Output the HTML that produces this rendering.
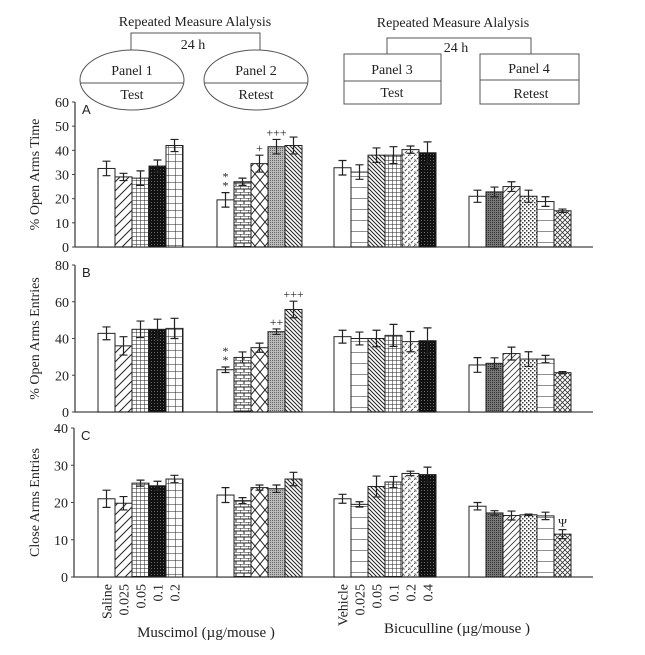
<!DOCTYPE html>
<html><head><meta charset="utf-8"><style>
body{margin:0;background:#fff}
svg text{font-family:"Liberation Serif",serif;fill:#222}
</style></head><body>
<svg id="chart" width="645" height="650" viewBox="0 0 645 650" xmlns="http://www.w3.org/2000/svg">
<defs>
<pattern id="p-diagR" patternUnits="userSpaceOnUse" width="9" height="9"><path d="M0 9L9 0M-2 2L2 -2M7 11L11 7" stroke="#222" stroke-width="1"/></pattern>
<pattern id="p-diagL" patternUnits="userSpaceOnUse" width="4" height="4"><path d="M0 0L4 4M-1 3L1 5M3 -1L5 1" stroke="#222" stroke-width="1"/></pattern>
<pattern id="p-fgrid" patternUnits="userSpaceOnUse" width="4" height="4"><rect width="4" height="4" fill="#fff"/><path d="M0 0H4M0 0V4" stroke="#222" stroke-width="1"/></pattern>
<pattern id="p-black" patternUnits="userSpaceOnUse" width="3" height="3"><rect width="3" height="3" fill="#111"/><rect x="1" y="1" width="1" height="1" fill="#666"/></pattern>
<pattern id="p-lgrid" patternUnits="userSpaceOnUse" width="7" height="7"><rect width="7" height="7" fill="#fff"/><path d="M0 0H7M0 0V7" stroke="#222" stroke-width="1"/></pattern>
<pattern id="p-brick" patternUnits="userSpaceOnUse" width="8" height="6"><rect width="8" height="6" fill="#fff"/><path d="M0 0H8M0 3H8M0 0V3M4 3V6" stroke="#222" stroke-width="1"/></pattern>
<pattern id="p-diamond" patternUnits="userSpaceOnUse" width="10" height="12"><path d="M0 0L10 12M10 0L0 12" stroke="#222" stroke-width="1"/></pattern>
<pattern id="p-gray" patternUnits="userSpaceOnUse" width="2" height="2"><rect width="2" height="2" fill="#bbb"/><rect width="1" height="1" fill="#666"/></pattern>
<pattern id="p-hlines" patternUnits="userSpaceOnUse" width="17" height="11"><path d="M0 0H17" stroke="#222" stroke-width="1"/></pattern>
<pattern id="p-wave" patternUnits="userSpaceOnUse" width="6" height="6"><path d="M0 6L6 0" stroke="#444" stroke-width="1" stroke-dasharray="3 1"/><path d="M0 3L3 6" stroke="#888" stroke-width="0.6"/></pattern>
<pattern id="p-dgrid" patternUnits="userSpaceOnUse" width="2" height="2"><rect width="2" height="2" fill="#777"/><rect width="1" height="1" fill="#333"/></pattern>
<pattern id="p-ldiag" patternUnits="userSpaceOnUse" width="6" height="6"><path d="M0 6L6 0M-1 1L1 -1M5 7L7 5" stroke="#333" stroke-width="0.8"/></pattern>
<pattern id="p-dots" patternUnits="userSpaceOnUse" width="4" height="4"><rect x="0" y="0" width="1.5" height="1.5" fill="#222"/><rect x="2" y="2" width="1.5" height="1.5" fill="#444"/></pattern>
<pattern id="p-sdiamond" patternUnits="userSpaceOnUse" width="5" height="5"><path d="M0 0L5 5M5 0L0 5" stroke="#333" stroke-width="0.8"/></pattern>
</defs>

<g fill="none" stroke="#555" stroke-width="1">
<text x="195" y="26" font-size="14" text-anchor="middle" stroke="none">Repeated Measure Alalysis</text>
<path d="M131 50V33H260V50"/>
<text x="193" y="49" font-size="14" text-anchor="middle" stroke="none">24 h</text>
<ellipse cx="132" cy="80" rx="52" ry="30"/>
<line x1="80" y1="83" x2="184" y2="83"/>
<text x="132" y="75" font-size="14" text-anchor="middle" stroke="none">Panel 1</text>
<text x="132" y="99" font-size="14" text-anchor="middle" stroke="none">Test</text>
<ellipse cx="256" cy="80" rx="52" ry="30"/>
<line x1="204" y1="83" x2="308" y2="83"/>
<text x="256" y="75" font-size="14" text-anchor="middle" stroke="none">Panel 2</text>
<text x="256" y="99" font-size="14" text-anchor="middle" stroke="none">Retest</text>
<text x="453" y="27" font-size="14" text-anchor="middle" stroke="none">Repeated Measure Alalysis</text>
<path d="M387 54V38H531V54"/>
<text x="456" y="52" font-size="14" text-anchor="middle" stroke="none">24 h</text>
<rect x="344" y="54" width="97" height="50"/>
<line x1="344" y1="81" x2="441" y2="81"/>
<text x="392" y="74" font-size="14" text-anchor="middle" stroke="none">Panel 3</text>
<text x="392" y="97" font-size="14" text-anchor="middle" stroke="none">Test</text>
<rect x="480" y="54" width="99" height="50"/>
<line x1="480" y1="80" x2="579" y2="80"/>
<text x="529" y="73" font-size="14" text-anchor="middle" stroke="none">Panel 4</text>
<text x="531" y="98" font-size="14" text-anchor="middle" stroke="none">Retest</text>
</g>
<g id="plots"></g>
</svg>
<script>
// ---- data ----
const groupStarts = [98, 217, 334, 469];
const patterns = [
  ['#fff','url(#p-diagR)','url(#p-fgrid)','url(#p-black)','url(#p-lgrid)'],
  ['#fff','url(#p-brick)','url(#p-diamond)','url(#p-gray)','url(#p-diagL)'],
  ['#fff','url(#p-hlines)','url(#p-diagL)','url(#p-fgrid)','url(#p-wave)','url(#p-black)'],
  ['#fff','url(#p-dgrid)','url(#p-ldiag)','url(#p-dots)','url(#p-hlines)','url(#p-sdiamond)']
];
const aValues = [[32.5,29,28.5,33.5,42],[19.5,27,34.5,41.5,42],[32.8,31,38,38,40.3,39],[21,22.8,25,21,18.8,15]];
const aErrors = [[3,1.5,3,2.5,2.5],[3,1.5,3.5,3,3.5],[3,3,3,3.5,1.5,4.5],[2.5,2,2,2.5,2,0.7]];
const bValues = [[42.8,36,45,45,45.5],[23,29.7,35,43.7,55.8],[41,40,40,41.7,38.3,38.8],[25.6,26.5,31.8,28.8,28.8,21.4]];
const bErrors = [[3.5,5,4.5,5.5,5.5],[1.5,3,2.5,1.5,4.5],[3.5,3.5,4.5,6,5.5,7],[4,3,3.5,4,2,0.6]];
const cValues = [[21,19.8,25.2,24.5,26.3],[22,20.5,24,23.7,26.3],[21,19.5,24.3,25.5,27.8,27.5],[19,17.2,16.5,16.7,16.4,11.5]];
const cErrors = [[2.3,1.8,0.8,1.2,1],[2,0.8,0.7,1,1.8],[1.2,0.7,2.8,1.5,0.6,2],[1,0.6,1.2,0.2,1,1.2]];
const aTicks = [0,10,20,30,40,50,60];
const bTicks = [0,20,40,60,80];
const cTicks = [0,10,20,30,40];
const muscimolLabels = ['Saline','0.025','0.05','0.1','0.2'];
const bicucullineLabels = ['Vehicle','0.025','0.05','0.1','0.2','0.4'];
const aMarks = [[1,0,'*\n*'],[1,2,'+'],[1,3,'+++']];
const bMarks = [[1,0,'*\n*'],[1,3,'++'],[1,4,'+++']];
const cMarks = [[3,5,'Ψ']];

const NS='http://www.w3.org/2000/svg';
const root=document.getElementById('plots');
const BW=17;
function mk(tag,attrs,parent){const e=document.createElementNS(NS,tag);for(const k in attrs)e.setAttribute(k,attrs[k]);(parent||root).appendChild(e);return e;}

function panel(name,letter,ax,y0,yTop,maxV,ticks,vals,errs,marks,ylabel){
  const g=mk('g',{});
  
  
  const y=v=>y0-(v/maxV)*(y0-yTop);
  const axis=mk('path',{d:`M${ax} ${yTop}V${y0}H593`,stroke:'#444','stroke-width':1.3,fill:'none'},g);
  
  
  ticks.forEach(t=>{
    mk('line',{x1:ax-3,x2:ax,y1:y(t),y2:y(t),stroke:'#444'},g);
    const tx=mk('text',{x:ax-6,y:y(t)+5,'font-size':14,'text-anchor':'end'},g);
    tx.textContent=t;
    
    
  });
  const lt=mk('text',{x:ax+7,y:yTop+12,'font-size':13,style:'font-family:"Liberation Sans",sans-serif'},g);
  lt.textContent=letter;
  
  
  const yl=mk('text',{x:0,y:0,'font-size':14,'text-anchor':'middle',transform:`translate(39 ${(y0+yTop)/2}) rotate(-90)`},g);
  yl.textContent=ylabel;
  
  
  vals.forEach((grp,gi)=>{
    grp.forEach((v,bi)=>{
      const x=groupStarts[gi]+bi*BW;
      const r=mk('rect',{x:x,y:y(v),width:BW,height:y0-y(v),fill:patterns[gi][bi],stroke:'#222','stroke-width':1},g);
      
      
      const e=errs[gi][bi],cx=x+BW/2;
      const eb=mk('path',{d:`M${cx} ${y(v+e)}V${y(v-e)}M${cx-4} ${y(v+e)}H${cx+4}M${cx-4} ${y(v-e)}H${cx+4}`,stroke:'#222','stroke-width':1.2,fill:'none'},g);
      
      
    });
  });
  marks.forEach(([gi,bi,s])=>{
    const cx=groupStarts[gi]+bi*BW+BW/2;
    const top=y(vals[gi][bi]+errs[gi][bi]);
    const lines=s.split('\n');
    lines.forEach((ln,li)=>{
      const t=mk('text',{x:cx,y:top-3-(lines.length-1-li)*9,'font-size':12,'text-anchor':'middle'},g);
      t.textContent=ln;
      
      
    });
  });
}
panel('panel-a-open-arms-time','A',75,247,102,60,aTicks,aValues,aErrors,aMarks,'% Open Arms Time');
panel('panel-b-open-arms-entries','B',75,412,265,80,bTicks,bValues,bErrors,bMarks,'% Open Arms Entries');
panel('panel-c-close-arms-entries','C',74,577,428,40,cTicks,cValues,cErrors,cMarks,'Close Arms Entries');

function xlabels(labels,gi){
  labels.forEach((l,i)=>{
    const cx=groupStarts[gi]+i*BW+BW/2+5;
    const t=mk('text',{x:0,y:0,'font-size':14,'text-anchor':'end',transform:`translate(${cx} 584) rotate(-90)`});
    t.textContent=l;
    
    
  });
}
xlabels(muscimolLabels,0);
xlabels(bicucullineLabels,2);
const m=mk('text',{x:206,y:637,'font-size':15,'text-anchor':'middle'});
m.textContent='Muscimol (µg/mouse )';


const b=mk('text',{x:457,y:633,'font-size':15,'text-anchor':'middle'});
b.textContent='Bicuculline (µg/mouse )';


</script>
</body></html>
